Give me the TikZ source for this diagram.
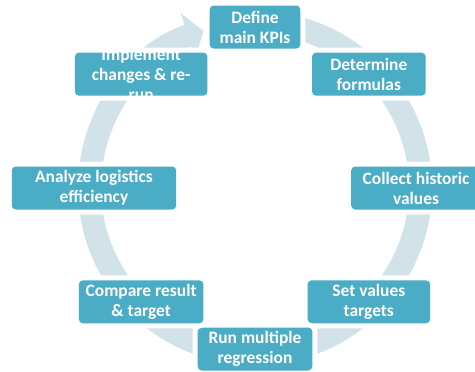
\documentclass[tikz,border=0pt]{standalone}
\usepackage{fontspec}
\setmainfont{Carlito}
\usetikzlibrary{arrows.meta}
\definecolor{boxteal}{HTML}{4BACC6}
\definecolor{ringblue}{HTML}{D1E2E9}

\begin{document}
\begin{tikzpicture}[
        x=1bp, y=1bp,
        stage/.style={rounded corners=4bp, fill=boxteal, minimum height=43bp, inner sep=0pt,
            preaction={draw=white, line width=10bp}},
        stagetext/.style={text=white, align=center, inner sep=0pt,
            font=\bfseries\fontsize{17.5}{20}\selectfont}
    ]
        \useasboundingbox (-255,-183) rectangle (220,188);

        % Light ring behind the stages, ending in an arrow before the first one
        \coordinate (hub) at (0,0);
        \draw[draw=ringblue, line width=23bp, -{Triangle[width=47bp, length=16bp]}]
            (hub) ++(90:165.5) arc[start angle=90, end angle=-251.8, radius=165.5];

        % Process stages around the ring
        \foreach \ang/\boxw in {90/91, 45/114, 0/130, -45/123, -90/115, -135/125, 180/165, 135/133}
            \node[stage, minimum width=\boxw] (stage\ang) at (\ang:161) {};

        \node[stagetext] (define) at (stage90) {Define\\main KPIs};
        \node[stagetext] (formulas) at (stage45) {Determine\\formulas};
        \node[stagetext] (collect) at (stage0) {Collect historic\\values};
        \node[stagetext] (targets) at (stage-45) {Set values\\targets};
        \node[stagetext] (regression) at (stage-90) {Run multiple\\regression};
        \node[stagetext] (compare) at (stage-135) {Compare result\\\& target};
        \node[stagetext] (analyze) at (stage180) {Analyze logistics\\efficiency};
        \node[stagetext] (implement) at (stage135) {Implement\\changes \& re-\\run};
    \end{tikzpicture}
\end{document}
